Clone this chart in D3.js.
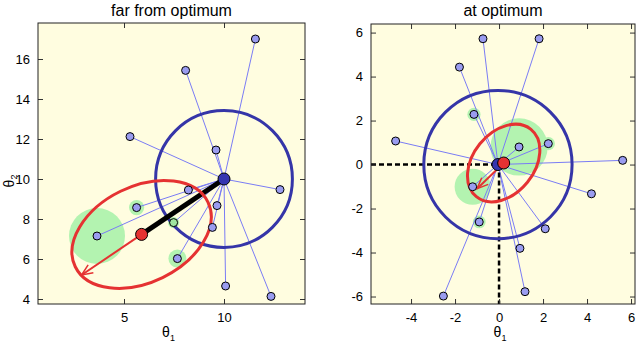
<!DOCTYPE html>
<html>
<head>
<meta charset="utf-8">
<script src="https://cdn.jsdelivr.net/npm/d3@7"></script>
<style>
  body { margin: 0; background: #fff; }
  text { font-family: "Liberation Sans", Arial, sans-serif; }
</style>
</head>
<body>
<script>
// données lues sur l'image
// panneau gauche : loin de l'optimum
var farX = [11.57, 8.08, 5.3, 9.6, 12.8, 8.22, 5.63, 9.65, 7.48, 9.42, 3.65, 7.67, 10.08, 12.35];
var farY = [17.0, 15.43, 12.12, 11.45, 9.47, 9.45, 8.57, 8.67, 7.82, 7.58, 7.15, 6.02, 4.65, 4.13];
var farHalo = [0, 0, 0, 0, 0, 0, 0.38, 0, 0.28, 0, 1.4, 0.45, 0, 0];
var farCenter = [10, 10];
var farMean = [5.88, 7.23];
var farRadius = 3.42;
var farEllipse = [3.69, 2.4, 26]; // demi-axes et angle
var farArrow = [2.88, 5.2];
var farXTicks = [5, 10];
var farYTicks = [4, 6, 8, 10, 12, 14, 16];

// panneau droit : à l'optimum
var atX = [-0.73, 1.82, -1.8, -1.14, -4.7, 0.91, 2.24, 5.62, -1.2, 4.2, -0.9, 2.1, 0.95, -2.53, 1.18];
var atY = [5.72, 5.72, 4.43, 2.28, 1.07, 0.8, 0.95, 0.19, -1.01, -1.33, -2.61, -2.92, -3.81, -5.98, -5.78];
var atHalo = [0, 0, 0, 0.3, 0, 1.3, 0.3, 0, 0.82, 0, 0.29, 0, 0, 0, 0];
var atCenter = [-0.05, 0];
var atMean = [0.21, 0.07];
var atRadius = 3.37;
var atEllipse = [1.97, 1.39, 51];
var atArrow = [-1.0, -1.1];
var atXTicks = [-4, -2, 0, 2, 4, 6];
var atYTicks = [-6, -4, -2, 0, 2, 4, 6];

var width = 640;
var height = 345;

var svg = d3.select("body")
    .append("svg")
    .attr("width", width)
    .attr("height", height);

function panneau(opt) {
    var xscale = d3.scaleLinear().domain(opt.xdom).range([opt.left, opt.right]);
    var yscale = d3.scaleLinear().domain(opt.ydom).range([opt.bottom, opt.top]);
    var kx = xscale(1) - xscale(0);
    var g = svg.append("g");

    g.append("rect")
        .attr("x", opt.left).attr("y", opt.top)
        .attr("width", opt.right - opt.left).attr("height", opt.bottom - opt.top)
        .attr("fill", "#fffde0");

    var clipId = "clip" + opt.id;
    g.append("clipPath").attr("id", clipId)
        .append("rect")
        .attr("x", opt.left).attr("y", opt.top)
        .attr("width", opt.right - opt.left).attr("height", opt.bottom - opt.top);
    var p = g.append("g").attr("clip-path", "url(#" + clipId + ")");

    var pts = opt.xs.map(function (x, i) { return { x: x, y: opt.ys[i], h: opt.halo[i] }; });

    // halos verts
    p.selectAll("circle.halo")
        .data(pts.filter(function (d) { return d.h > 0; }))
        .enter().append("circle")
        .attr("cx", function (d) { return xscale(d.x); })
        .attr("cy", function (d) { return yscale(d.y); })
        .attr("r", function (d) { return d.h * kx; })
        .attr("fill", "#b3f3b0");

    // rayons bleus
    p.selectAll("line.ray")
        .data(pts)
        .enter().append("line")
        .attr("x1", xscale(opt.center[0])).attr("y1", yscale(opt.center[1]))
        .attr("x2", function (d) { return xscale(d.x); })
        .attr("y2", function (d) { return yscale(d.y); })
        .attr("stroke", "#7a7cf5")
        .attr("stroke-width", 1);

    // pointillés
    if (opt.dashed) {
        p.append("line")
            .attr("x1", opt.left).attr("y1", yscale(0))
            .attr("x2", xscale(0)).attr("y2", yscale(0))
            .attr("stroke", "#000").attr("stroke-width", 2.5).attr("stroke-dasharray", "5,3");
        p.append("line")
            .attr("x1", xscale(0)).attr("y1", yscale(0))
            .attr("x2", xscale(0)).attr("y2", opt.bottom)
            .attr("stroke", "#000").attr("stroke-width", 2.5).attr("stroke-dasharray", "5,3");
    }

    // cercle bleu
    p.append("circle")
        .attr("cx", xscale(opt.center[0])).attr("cy", yscale(opt.center[1]))
        .attr("r", opt.radius * kx)
        .attr("fill", "none")
        .attr("stroke", "#3535a8")
        .attr("stroke-width", 3);

    // trait noir
    p.append("line")
        .attr("x1", xscale(opt.mean[0])).attr("y1", yscale(opt.mean[1]))
        .attr("x2", xscale(opt.center[0])).attr("y2", yscale(opt.center[1]))
        .attr("stroke", "#000").attr("stroke-width", 5);

    // ellipse rouge
    p.append("ellipse")
        .attr("cx", 0).attr("cy", 0)
        .attr("rx", opt.ellipse[0] * kx)
        .attr("ry", opt.ellipse[1] * kx)
        .attr("transform", "translate(" + xscale(opt.mean[0]) + "," + yscale(opt.mean[1]) + ") rotate(" + (-opt.ellipse[2]) + ")")
        .attr("fill", "none")
        .attr("stroke", "#e53232")
        .attr("stroke-width", 3);

    // flèche rouge
    var x0 = xscale(opt.mean[0]), y0 = yscale(opt.mean[1]);
    var x1 = xscale(opt.arrow[0]), y1 = yscale(opt.arrow[1]);
    var ang = Math.atan2(y1 - y0, x1 - x0);
    var L = 12, a = 0.4;
    p.append("line")
        .attr("x1", x0).attr("y1", y0).attr("x2", x1).attr("y2", y1)
        .attr("stroke", "#e53232").attr("stroke-width", 2);
    p.append("path")
        .attr("d", "M" + (x1 - L * Math.cos(ang - a)) + "," + (y1 - L * Math.sin(ang - a)) +
            "L" + x1 + "," + y1 +
            "L" + (x1 - L * Math.cos(ang + a)) + "," + (y1 - L * Math.sin(ang + a)))
        .attr("fill", "none")
        .attr("stroke", "#e53232").attr("stroke-width", 1.5);

    // points (vert quand le halo est à peine plus grand que le point)
    p.selectAll("circle.pt")
        .data(pts)
        .enter().append("circle")
        .attr("cx", function (d) { return xscale(d.x); })
        .attr("cy", function (d) { return yscale(d.y); })
        .attr("r", 4)
        .attr("fill", function (d) { return (d.h > 0 && d.h * kx < 6) ? "#9fe6a0" : "#9a9cf0"; })
        .attr("stroke", "#000")
        .attr("stroke-width", 1);

    p.append("circle")
        .attr("cx", xscale(opt.center[0])).attr("cy", yscale(opt.center[1]))
        .attr("r", 6)
        .attr("fill", "#3535b0").attr("stroke", "#000").attr("stroke-width", 1);

    p.append("circle")
        .attr("cx", xscale(opt.mean[0])).attr("cy", yscale(opt.mean[1]))
        .attr("r", 6)
        .attr("fill", "#e53232").attr("stroke", "#000").attr("stroke-width", 1);

    // axes (ticks vers l'intérieur, miroir)
    var ax = g.append("g").attr("transform", "translate(0," + opt.bottom + ")")
        .call(d3.axisBottom(xscale).tickValues(opt.xticks).tickSize(-5).tickPadding(9));
    var axTop = g.append("g").attr("transform", "translate(0," + opt.top + ")")
        .call(d3.axisTop(xscale).tickValues(opt.xticks).tickSize(-5).tickFormat(""));
    var ay = g.append("g").attr("transform", "translate(" + opt.left + ",0)")
        .call(d3.axisLeft(yscale).tickValues(opt.yticks).tickSize(-5).tickPadding(8));
    var ayR = g.append("g").attr("transform", "translate(" + opt.right + ",0)")
        .call(d3.axisRight(yscale).tickValues(opt.yticks).tickSize(-5).tickFormat(""));
    [ax, axTop, ay, ayR].forEach(function (a) {
        a.select(".domain").remove();
        a.selectAll("text").attr("font-size", 13).attr("fill", "#000")
            .style("font-family", "'Liberation Sans', Arial, sans-serif");
        a.selectAll("line").attr("stroke", "#333");
    });
    ay.selectAll("text").text(function (d) { return d < 0 ? "-" + Math.abs(d) : d; });
    ax.selectAll("text").text(function (d) { return d < 0 ? "-" + Math.abs(d) : d; });

    g.append("rect")
        .attr("x", opt.left).attr("y", opt.top)
        .attr("width", opt.right - opt.left).attr("height", opt.bottom - opt.top)
        .attr("fill", "none").attr("stroke", "#222").attr("stroke-width", 1);

    // titre
    g.append("text")
        .attr("x", (opt.left + opt.right) / 2).attr("y", 16)
        .attr("text-anchor", "middle").attr("font-size", 16)
        .text(opt.title);

    var lx = g.append("text")
        .attr("x", (opt.left + opt.right) / 2 - 3).attr("y", 337)
        .attr("text-anchor", "middle").attr("font-size", 14);
    lx.append("tspan").text("θ");
    lx.append("tspan").attr("font-size", 9).attr("dy", 4).text("1");

    if (opt.ylabel) {
        var ly = g.append("text")
            .attr("transform", "translate(14," + (yscale(10) + 2) + ") rotate(-90)")
            .attr("text-anchor", "middle").attr("font-size", 14);
        ly.append("tspan").text("θ");
        ly.append("tspan").attr("font-size", 9).attr("dy", 3).text("2");
    }
}

panneau({
    id: "far", title: "far from optimum",
    left: 38, right: 305, top: 23, bottom: 304,
    xdom: [0.7, 14.05], ydom: [3.75, 17.8],
    xs: farX, ys: farY, halo: farHalo,
    center: farCenter, mean: farMean, radius: farRadius,
    ellipse: farEllipse, arrow: farArrow,
    xticks: farXTicks, yticks: farYTicks,
    dashed: false, ylabel: true
});

panneau({
    id: "at", title: "at optimum",
    left: 371, right: 635, top: 24, bottom: 304,
    xdom: [-5.82, 6.18], ydom: [-6.34, 6.39],
    xs: atX, ys: atY, halo: atHalo,
    center: atCenter, mean: atMean, radius: atRadius,
    ellipse: atEllipse, arrow: atArrow,
    xticks: atXTicks, yticks: atYTicks,
    dashed: true, ylabel: false
});
</script>
</body>
</html>
